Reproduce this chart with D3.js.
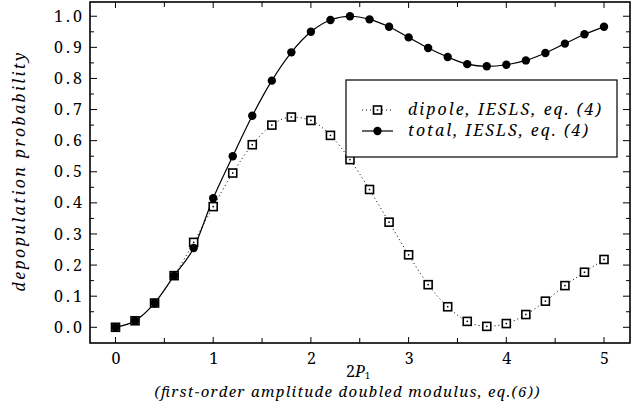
<!DOCTYPE html>
<html><head><meta charset="utf-8">
<script src="https://cdn.jsdelivr.net/npm/d3@7/dist/d3.min.js"></script>
<style>body{margin:0;background:#fff}svg{display:block}</style>
</head><body>
<script>
const xs = [0,0.2,0.4,0.6,0.8,1.0,1.2,1.4,1.6,1.8,2.0,2.2,2.4,2.6,2.8,3.0,3.2,3.4,3.6,3.8,4.0,4.2,4.4,4.6,4.8,5.0];
const totalVals = [0.0,0.021,0.078,0.166,0.255,0.415,0.55,0.68,0.793,0.884,0.95,0.988,1.0,0.99,0.966,0.932,0.898,0.869,0.846,0.839,0.844,0.858,0.882,0.912,0.942,0.966];
const dipoleVals = [0.0,0.021,0.078,0.166,0.273,0.388,0.496,0.587,0.65,0.676,0.665,0.617,0.539,0.443,0.338,0.233,0.137,0.066,0.019,0.003,0.012,0.041,0.084,0.134,0.177,0.218];
const xTicks = [0,1,2,3,4,5];
const yTicks = [0,0.1,0.2,0.3,0.4,0.5,0.6,0.7,0.8,0.9,1.0];
const legendLabels = ["dipole, IESLS, eq. (4)", "total, IESLS, eq. (4)"];

const W = 639, H = 418;
const L = 90, R = 630, T = 2, B = 343;
const x = d3.scaleLinear().domain([-0.261, 5.266]).range([L, R]);
const y = d3.scaleLinear().domain([-0.0505, 1.0458]).range([B, T]);
const serif = "'Noto Serif', serif";

const svg = d3.select("body").append("svg").attr("width", W).attr("height", H);

// ticks
const xMinor = d3.range(0, 5.01, 0.5);
const yMinor = d3.range(0, 1.001, 0.05);
const tk = svg.append("g").attr("stroke", "#000").attr("stroke-width", 1);
xMinor.forEach(v => {
  const len = (Math.abs(v - Math.round(v)) < 1e-6) ? 6 : 5;
  tk.append("line").attr("x1", x(v)).attr("x2", x(v)).attr("y1", B).attr("y2", B - len);
  tk.append("line").attr("x1", x(v)).attr("x2", x(v)).attr("y1", T).attr("y2", T + len);
});
yMinor.forEach(v => {
  const major = Math.abs(v * 10 - Math.round(v * 10)) < 1e-6;
  const len = major ? 7 : 4;
  tk.append("line").attr("y1", y(v)).attr("y2", y(v)).attr("x1", L).attr("x2", L + len);
  tk.append("line").attr("y1", y(v)).attr("y2", y(v)).attr("x1", R).attr("x2", R - len);
});

// tick labels via d3 axes (no lines)
const xAxis = svg.append("g").attr("transform", `translate(0,${B})`)
  .call(d3.axisBottom(x).tickValues(xTicks).tickSize(0).tickPadding(6).tickFormat(d3.format("d")));
xAxis.select(".domain").remove();
xAxis.selectAll("text").attr("font-family", serif).attr("font-size", 16).attr("fill", "#000")
  .attr("dy", null).attr("y", 21);

const yAxis = svg.append("g").attr("transform", `translate(${L},0)`)
  .call(d3.axisLeft(y).tickValues(yTicks).tickSize(0).tickPadding(8).tickFormat(d3.format(".1f")));
yAxis.select(".domain").remove();
yAxis.selectAll("text").attr("font-family", serif).attr("font-size", 16).attr("fill", "#000")
  .attr("textLength", 28).attr("lengthAdjust", "spacing");

// lines
const line = d3.line().x((d, i) => x(xs[i])).y(d => y(d)).curve(d3.curveMonotoneX);
svg.append("path").datum(dipoleVals).attr("d", line).attr("fill", "none")
  .attr("stroke", "#000").attr("stroke-width", 1).attr("stroke-dasharray", "1,3");
svg.append("path").datum(totalVals).attr("d", line).attr("fill", "none")
  .attr("stroke", "#000").attr("stroke-width", 1.2);

// markers
const sq = 8;
svg.append("g").selectAll("rect").data(dipoleVals).join("rect")
  .attr("x", (d, i) => x(xs[i]) - sq / 2).attr("y", d => y(d) - sq / 2)
  .attr("width", sq).attr("height", sq).attr("fill", "#fff").attr("stroke", "#000").attr("stroke-width", 1.6);
svg.append("g").selectAll("rect").data(dipoleVals).join("rect")
  .attr("x", (d, i) => x(xs[i]) - 0.75).attr("y", d => y(d) - 0.75)
  .attr("width", 1.5).attr("height", 1.5).attr("fill", "#000");
svg.append("g").selectAll("circle").data(totalVals).join("circle")
  .attr("cx", (d, i) => x(xs[i])).attr("cy", d => y(d)).attr("r", 4.2).attr("fill", "#000");

// frame
svg.append("rect").attr("x", L).attr("y", T).attr("width", R - L).attr("height", B - T)
  .attr("fill", "none").attr("stroke", "#000").attr("stroke-width", 1.6);

// legend
const lg = svg.append("g");
lg.append("rect").attr("x", 346).attr("y", 80).attr("width", 271).attr("height", 77)
  .attr("fill", "#fff").attr("stroke", "#000").attr("stroke-width", 1.2);
const ly = [110, 131];
lg.append("line").attr("x1", 362).attr("x2", 393).attr("y1", ly[0]).attr("y2", ly[0])
  .attr("stroke", "#000").attr("stroke-dasharray", "1,3");
lg.append("rect").attr("x", 377.5 - sq / 2).attr("y", ly[0] - sq / 2).attr("width", sq).attr("height", sq)
  .attr("fill", "#fff").attr("stroke", "#000").attr("stroke-width", 1.6);
lg.append("rect").attr("x", 377.5 - 0.75).attr("y", ly[0] - 0.75).attr("width", 1.5).attr("height", 1.5).attr("fill", "#000");
lg.append("line").attr("x1", 362).attr("x2", 393).attr("y1", ly[1]).attr("y2", ly[1])
  .attr("stroke", "#000").attr("stroke-width", 1.2);
lg.append("circle").attr("cx", 377.5).attr("cy", ly[1]).attr("r", 4.2).attr("fill", "#000");
const lgLen = [193, 180];
legendLabels.forEach((t, i) => {
  lg.append("text").attr("x", 408).attr("y", ly[i] + 5).text(t)
    .attr("font-family", serif).attr("font-style", "italic").attr("font-size", 16)
    .attr("textLength", lgLen[i]).attr("lengthAdjust", "spacing");
});

// axis titles
svg.append("text").attr("transform", "translate(25,172) rotate(-90)").attr("text-anchor", "middle")
  .attr("font-family", serif).attr("font-style", "italic").attr("font-size", 16)
  .attr("textLength", 239).attr("lengthAdjust", "spacing")
  .text("depopulation probability");
const xt = svg.append("text").attr("x", 358).attr("y", 377).attr("text-anchor", "middle")
  .attr("font-family", serif).attr("font-size", 16);
xt.append("tspan").text("2");
xt.append("tspan").attr("font-style", "italic").text("P");
xt.append("tspan").attr("font-size", 9).attr("dy", 2).text("1");
svg.append("text").attr("x", 347).attr("y", 397).attr("text-anchor", "middle")
  .attr("font-family", serif).attr("font-style", "italic").attr("font-size", 15)
  .attr("textLength", 385).attr("lengthAdjust", "spacing")
  .text("(first−order amplitude doubled modulus, eq.(6))");
</script>
</body></html>
